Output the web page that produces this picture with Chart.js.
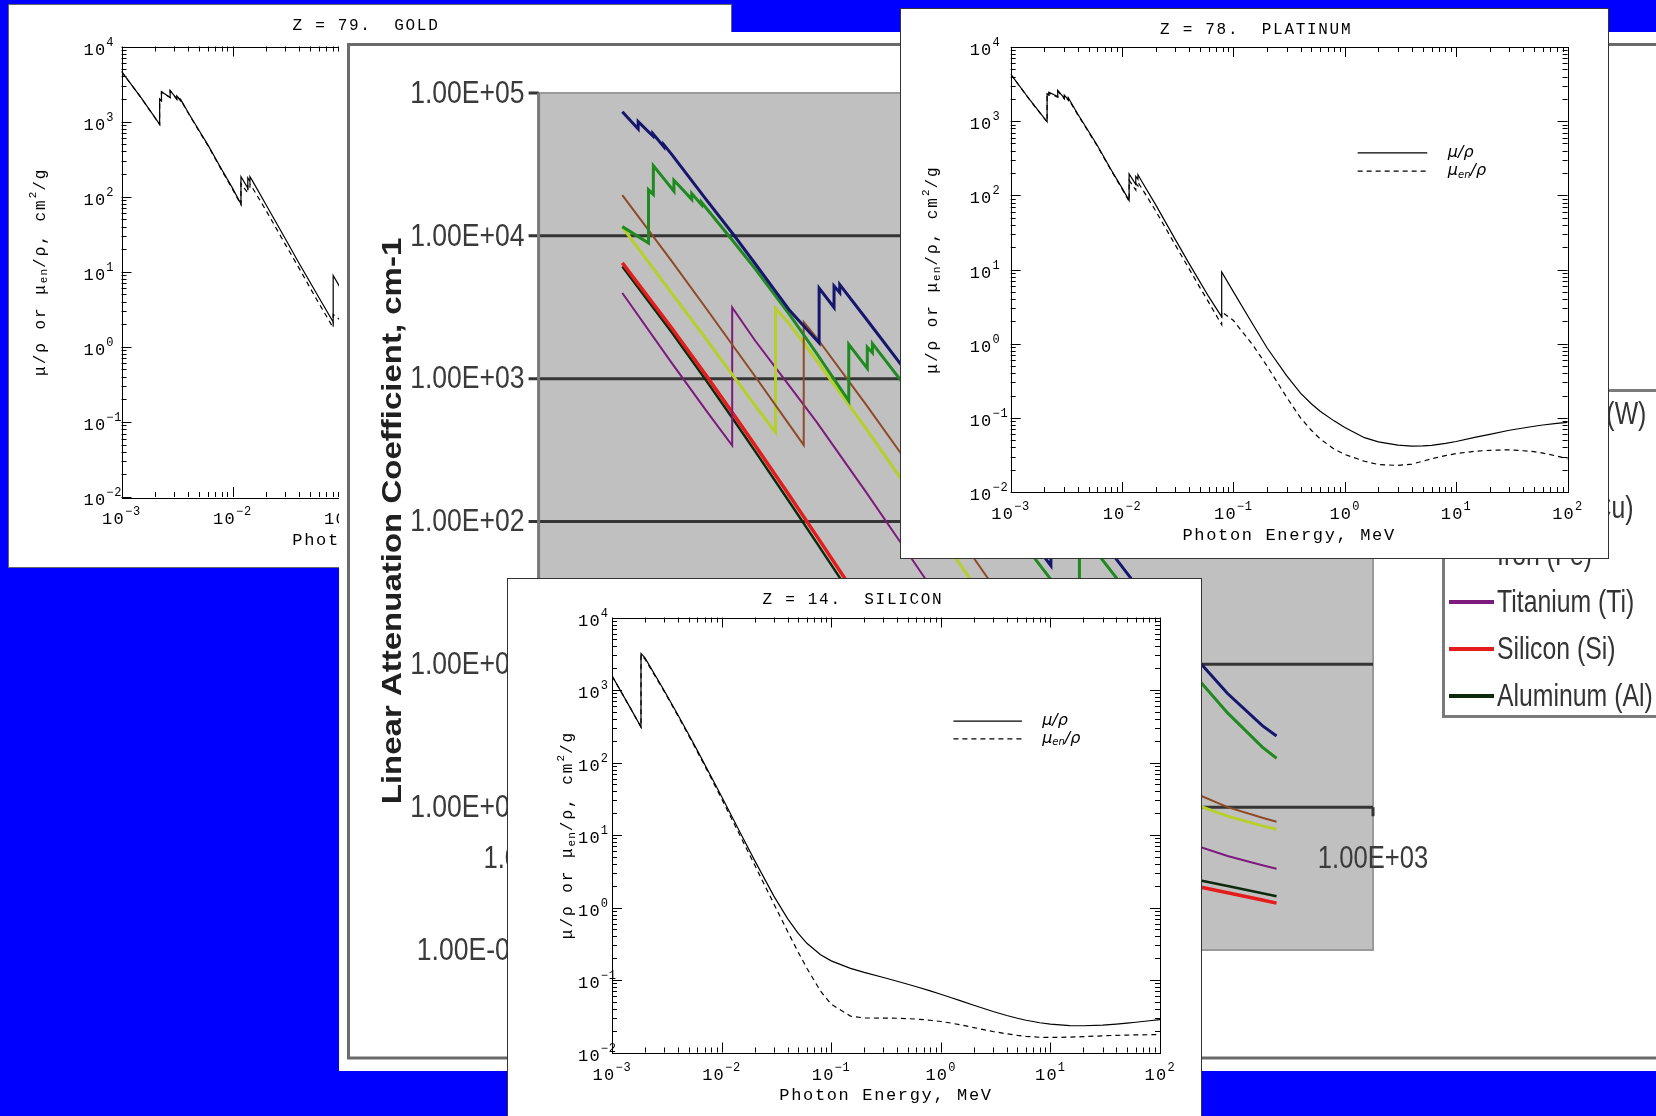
<!DOCTYPE html>
<html>
<head>
<meta charset="utf-8">
<script src="https://cdn.jsdelivr.net/npm/chart.js@4.4.1/dist/chart.umd.min.js"></script>
<style>
html, body { margin: 0; padding: 0; }
body { width: 1656px; height: 1116px; background: #0000ff; position: relative; overflow: hidden; }
.panel { position: absolute; background: #fff; box-sizing: border-box; }
.panel canvas { position: absolute; left: 0; top: 0; }
#bigChart { filter: blur(0.5px); }
</style>
</head>
<body>
<div class="panel" style="left:8px;top:4px;width:724px;height:564px;border:1px solid #666"><canvas id="goldChart" width="722" height="562"></canvas></div>
<div class="panel" style="left:339px;top:32px;width:1317px;height:1039px"><canvas id="bigChart" width="1317" height="1039"></canvas></div>
<div class="panel" style="left:900px;top:8px;width:709px;height:551px;border:1px solid #333"><canvas id="platChart" width="707" height="549"></canvas></div>
<div class="panel" style="left:507px;top:578px;width:695px;height:560px;border:1px solid #333"><canvas id="siChart" width="693" height="558"></canvas></div>
<script>
// ---- big chart: photon energy (keV) vs linear attenuation coefficient (cm-1)
const wKeV  = [2, 2.28, 2.28, 2.575, 2.575, 2.82, 2.82, 3, 4, 5, 6, 8, 10.2, 10.2, 11.54, 11.54, 12.1, 12.1, 15, 20, 30, 40, 50, 60, 69.5, 69.5, 80, 100, 150, 200, 300, 400, 450];
const wMu   = [74000, 56000, 63000, 50000, 52000, 42000, 43500, 37500, 18000, 10300, 6400, 3000, 1780, 4300, 3150, 4450, 4000, 4550, 2650, 1270, 438, 206, 115, 71.6, 49, 217, 150.7, 85.7, 30.5, 15.1, 6.25, 3.72, 3.15];
const pbKeV = [2, 2.484, 2.484, 2.586, 2.586, 3.066, 3.066, 3.554, 3.554, 3.851, 3.851, 5, 6, 8, 10, 13.035, 13.035, 15.2, 15.2, 15.86, 15.86, 20, 30, 40, 50, 60, 80, 88, 88, 100, 150, 200, 300, 400, 450];
const pbMu  = [11600, 8900, 21000, 19500, 31000, 20500, 24500, 18000, 19800, 16500, 17200, 9200, 5900, 2800, 1500, 700, 1740, 1180, 1660, 1520, 1760, 980, 344, 163, 91, 57, 27.5, 21.7, 87.2, 63, 22.8, 11.3, 4.57, 2.63, 2.2];
const cuKeV = [2, 3, 4, 5, 6, 8, 8.979, 8.979, 10, 15, 20, 30, 40, 50, 60, 80, 100, 150, 200, 300, 400, 450];
const cuMu  = [19300, 6710, 3110, 1700, 1040, 471, 343, 2490, 1934, 663, 303, 97.8, 43.6, 23.4, 14.3, 6.84, 4.11, 1.99, 1.40, 1.00, 0.843, 0.79];
const feKeV = [2, 3, 4, 5, 6, 7.112, 7.112, 8, 10, 15, 20, 30, 40, 50, 60, 80, 100, 150, 200, 300, 400, 450];
const feMu  = [11500, 4000, 1900, 1050, 650, 420, 3100, 2400, 1340, 450, 202, 64.4, 28.6, 15.4, 9.5, 4.68, 2.93, 1.55, 1.15, 0.865, 0.74, 0.70];
const tiKeV = [2, 3, 4, 4.966, 4.966, 6, 8, 10, 15, 20, 30, 40, 50, 60, 80, 100, 150, 200, 300, 400, 450];
const tiMu  = [3980, 1300, 600, 340, 3150, 1850, 883, 496, 162, 71.6, 22.4, 9.96, 5.45, 3.42, 1.82, 1.23, 0.743, 0.59, 0.455, 0.392, 0.37];
const siKeV = [2, 3, 4, 5, 6, 8, 10, 15, 20, 30, 40, 50, 60, 80, 100, 150, 200, 300, 400, 450];
const siMu  = [6470, 2280, 1055, 571, 342, 151, 79, 24.1, 10.4, 3.35, 1.63, 1.02, 0.747, 0.519, 0.428, 0.337, 0.297, 0.252, 0.224, 0.213];
const alKeV = [2, 3, 4, 5, 6, 8, 10, 15, 20, 30, 40, 50, 60, 80, 100, 150, 200, 300, 400, 450];
const alMu  = [6108, 2127, 973, 522, 311, 136, 70.8, 21.5, 9.29, 3.04, 1.53, 0.994, 0.750, 0.545, 0.460, 0.372, 0.330, 0.281, 0.250, 0.238];

const bigNames  = ['Tungsten (W)', 'Lead (Pb)', 'Copper (Cu)', 'Iron (Fe)', 'Titanium (Ti)', 'Silicon (Si)', 'Aluminum (Al)'];
const bigColors = ['#16166e', '#1f8a1f', '#8e4a26', '#b6cf2a', '#7d1a7d', '#e41c1c', '#0e2a0e'];
const yTickValues = [1e5, 1e4, 1e3, 1e2, 1e1, 1, 0.1];
const yTickLabels = ['1.00E+05', '1.00E+04', '1.00E+03', '1.00E+02', '1.00E+01', '1.00E+00', '1.00E-01'];
const xTickValues = [1, 10, 100, 1000];
const xTickLabels = ['1.00E+00', '1.00E+01', '1.00E+02', '1.00E+03'];

// ---- NIST style panels: photon energy (MeV) vs mu/rho and mu_en/rho (cm2/g)
const auMeV = [1e-3, 1.5e-3, 2.206e-3, 2.206e-3, 2.291e-3, 2.291e-3, 2.743e-3, 2.743e-3, 3.148e-3, 3.148e-3, 3.425e-3, 3.425e-3, 4e-3, 5e-3, 6e-3, 8e-3, 1e-2, 1.1919e-2, 1.1919e-2, 1.3734e-2, 1.3734e-2, 1.4353e-2, 1.4353e-2, 1.5e-2, 2e-2, 3e-2, 4e-2, 5e-2, 6e-2, 8.0725e-2, 8.0725e-2, 0.1, 0.15, 0.2, 0.3, 0.4, 0.5, 0.6, 0.8, 1, 1.5, 2, 3, 4, 5, 6, 8, 10, 15, 20, 30, 40, 50, 60, 80, 100];
const auMu  = [4652, 2089, 918.7, 2000, 1900, 2500, 2100, 2600, 2000, 2200, 1900, 1950, 1310, 760, 490, 230, 130, 80, 185, 130, 178, 160, 185, 166, 78.8, 27.3, 12.8, 7.26, 4.53, 2.14, 8.90, 5.16, 1.86, 0.928, 0.386, 0.223, 0.159, 0.126, 0.0935, 0.0755, 0.0549, 0.0484, 0.0432, 0.0418, 0.042, 0.0427, 0.0453, 0.0482, 0.0552, 0.0606, 0.0688, 0.0737, 0.0775, 0.0803, 0.0844, 0.0874];
const auMuEn = [4639, 2081, 915, 1980, 1880, 2480, 2080, 2580, 1980, 2180, 1880, 1930, 1290, 745, 480, 224, 126, 78, 150, 112, 142, 130, 148, 134, 66, 23, 11, 6.1, 3.8, 1.8, 2.7, 2.1, 0.98, 0.52, 0.2, 0.105, 0.07, 0.054, 0.039, 0.033, 0.0265, 0.024, 0.0231, 0.024, 0.0262, 0.028, 0.031, 0.033, 0.0355, 0.0365, 0.037, 0.036, 0.035, 0.0335, 0.0305, 0.028];

const ptMeV = [1e-3, 1.5e-3, 2.122e-3, 2.122e-3, 2.202e-3, 2.202e-3, 2.645e-3, 2.645e-3, 3.027e-3, 3.027e-3, 3.296e-3, 3.296e-3, 4e-3, 5e-3, 6e-3, 8e-3, 1e-2, 1.1564e-2, 1.1564e-2, 1.3273e-2, 1.3273e-2, 1.388e-2, 1.388e-2, 1.5e-2, 2e-2, 3e-2, 4e-2, 5e-2, 6e-2, 7.8395e-2, 7.8395e-2, 0.1, 0.15, 0.2, 0.3, 0.4, 0.5, 0.6, 0.8, 1, 1.5, 2, 3, 4, 5, 6, 8, 10, 15, 20, 30, 40, 50, 60, 80, 100];
const ptMu  = [4300, 1900, 980, 2350, 2250, 2450, 2150, 2600, 2050, 2250, 1950, 2050, 1250, 730, 470, 220, 125, 85, 195, 140, 180, 165, 190, 155, 75, 25.5, 12, 6.8, 4.3, 2.3, 9.3, 5.0, 1.8, 0.88, 0.37, 0.215, 0.155, 0.123, 0.091, 0.074, 0.054, 0.0475, 0.0428, 0.0415, 0.0418, 0.0426, 0.0452, 0.048, 0.055, 0.060, 0.068, 0.073, 0.077, 0.080, 0.084, 0.087];
const ptMuEn = [4290, 1890, 975, 2300, 2200, 2400, 2100, 2550, 2000, 2200, 1900, 2000, 1220, 715, 460, 215, 122, 83, 160, 118, 145, 134, 150, 125, 62, 21.5, 10.2, 5.7, 3.6, 1.8, 2.7, 2.05, 0.95, 0.50, 0.19, 0.10, 0.068, 0.052, 0.038, 0.032, 0.026, 0.0235, 0.0228, 0.0238, 0.026, 0.028, 0.031, 0.033, 0.0355, 0.0365, 0.037, 0.036, 0.035, 0.0335, 0.0305, 0.028];

const siMeV = [1e-3, 1.5e-3, 1.839e-3, 1.839e-3, 2e-3, 3e-3, 4e-3, 5e-3, 6e-3, 8e-3, 1e-2, 1.5e-2, 2e-2, 3e-2, 4e-2, 5e-2, 6e-2, 8e-2, 0.1, 0.15, 0.2, 0.3, 0.4, 0.5, 0.6, 0.8, 1, 1.25, 1.5, 2, 3, 4, 5, 6, 8, 10, 15, 20, 30, 40, 50, 60, 80, 100];
const siMuRho = [1570, 535.5, 309.2, 3192, 2777, 978.4, 452.9, 245.0, 147.0, 64.68, 33.89, 10.34, 4.464, 1.436, 0.7012, 0.4385, 0.3207, 0.2228, 0.1835, 0.1448, 0.1275, 0.1082, 0.09614, 0.08748, 0.08077, 0.07082, 0.06361, 0.05688, 0.05183, 0.04480, 0.03678, 0.03240, 0.02967, 0.02788, 0.02574, 0.02462, 0.02352, 0.02337, 0.02385, 0.02461, 0.02539, 0.02614, 0.02743, 0.02847];
const siMuEnRho = [1567, 533.1, 307.0, 3059, 2669, 951.1, 438.2, 236.5, 141.3, 61.54, 31.67, 9.307, 3.875, 1.121, 0.4681, 0.2421, 0.1453, 0.0701, 0.04632, 0.03175, 0.02994, 0.02984, 0.02965, 0.02932, 0.02888, 0.02787, 0.02677, 0.02540, 0.02414, 0.02206, 0.01948, 0.01808, 0.01723, 0.01673, 0.01622, 0.01611, 0.01628, 0.01655, 0.01699, 0.01724, 0.01740, 0.01750, 0.01760, 0.01763];

const MONO = "'Liberation Mono', 'DejaVu Sans Mono', monospace";
const SANS = "'Liberation Sans', Arial, sans-serif";

function pts(xs, ys) {
    return xs.map((v, i) => ({ x: v, y: ys[i] }));
}

function partsWidth(ctx, parts) {
    let w = 0;
    parts.forEach(p => {
        ctx.font = p.font;
        ctx.letterSpacing = p.ls || '0px';
        w += ctx.measureText(p.t).width;
    });
    return w;
}

function drawParts(ctx, parts, x, y) {
    parts.forEach(p => {
        ctx.font = p.font;
        ctx.letterSpacing = p.ls || '0px';
        ctx.fillText(p.t, x, y + (p.dy || 0));
        x += ctx.measureText(p.t).width;
    });
}

function powLabel(e) {
    const sup = e < 0 ? '\u2212' + (-e) : String(e);
    return [
        { t: '10', font: '17px ' + MONO, ls: '1.2px' },
        { t: sup, font: '12px ' + MONO, ls: '0.8px', dy: -9 }
    ];
}

function logTicks(lo, hi) {
    const out = [];
    for (let d = lo; d <= hi; d++) {
        for (let m = 1; m <= 9; m++) {
            if (d === hi && m > 1) break;
            out.push([m * Math.pow(10, d), m === 1]);
        }
    }
    return out;
}

// frame, ticks and texts of the NIST style plots
const nistFrame = {
    id: 'nistFrame',
    afterDatasetsDraw(chart, args, opts) {
        const { ctx, chartArea: a, scales: { x, y } } = chart;
        ctx.save();
        ctx.strokeStyle = '#000';
        ctx.fillStyle = '#000';
        ctx.lineWidth = 1;
        ctx.setLineDash([]);
        ctx.strokeRect(Math.round(a.left) + 0.5, Math.round(a.top) + 0.5, Math.round(a.right - a.left), Math.round(a.bottom - a.top));

        ctx.beginPath();
        logTicks(-3, 2).forEach(([v, major]) => {
            const px = Math.round(x.getPixelForValue(v)) + 0.5;
            const len = major ? 10 : 5;
            ctx.moveTo(px, a.bottom); ctx.lineTo(px, a.bottom - len);
            ctx.moveTo(px, a.top); ctx.lineTo(px, a.top + len);
        });
        logTicks(-2, 4).forEach(([v, major]) => {
            const py = Math.round(y.getPixelForValue(v)) + 0.5;
            const len = major ? 10 : 5;
            ctx.moveTo(a.left, py); ctx.lineTo(a.left + len, py);
            ctx.moveTo(a.right, py); ctx.lineTo(a.right - len, py);
        });
        ctx.stroke();

        ctx.textAlign = 'left';
        ctx.textBaseline = 'alphabetic';
        for (let e = -3; e <= 2; e++) {
            const parts = powLabel(e);
            const px = x.getPixelForValue(Math.pow(10, e));
            drawParts(ctx, parts, px - partsWidth(ctx, parts) / 2, a.bottom + 27);
        }
        for (let e = -2; e <= 4; e++) {
            const py = y.getPixelForValue(Math.pow(10, e));
            drawParts(ctx, powLabel(e), a.left - opts.tickGap, py + 8);
        }

        // title
        ctx.textAlign = 'center';
        ctx.textBaseline = 'middle';
        ctx.font = '16px ' + MONO;
        ctx.letterSpacing = '1.7px';
        ctx.fillText(opts.title, (a.left + a.right) / 2 - 33, 21);

        // x axis title
        ctx.font = '17px ' + MONO;
        ctx.letterSpacing = '1.65px';
        ctx.fillText('Photon Energy, MeV', (a.left + a.right) / 2, a.bottom + 43);

        // y axis title
        ctx.textAlign = 'left';
        const f = '16px ' + MONO, fs = '11px ' + MONO;
        const ylab = [
            { t: '\u03bc/\u03c1 or \u03bc', font: f, ls: '2px' },
            { t: 'en', font: fs, ls: '1px', dy: 4 },
            { t: '/\u03c1, cm', font: f, ls: '2px' },
            { t: '2', font: fs, ls: '1px', dy: -7 },
            { t: '/g', font: f, ls: '2px' }
        ];
        ctx.save();
        ctx.translate(a.left - opts.labelGap, (a.top + a.bottom) / 2);
        ctx.rotate(-Math.PI / 2);
        drawParts(ctx, ylab, -partsWidth(ctx, ylab) / 2, 0);
        ctx.restore();

        // legend
        const w = a.right - a.left, h = a.bottom - a.top;
        const lx0 = a.left + 0.623 * w, lx1 = a.left + 0.748 * w, tx = a.left + 0.785 * w;
        const ly0 = a.top + 0.238 * h, ly1 = a.top + 0.279 * h;
        ctx.lineWidth = 1.2;
        ctx.beginPath(); ctx.moveTo(lx0, ly0); ctx.lineTo(lx1, ly0); ctx.stroke();
        ctx.setLineDash([5, 4]);
        ctx.beginPath(); ctx.moveTo(lx0, ly1); ctx.lineTo(lx1, ly1); ctx.stroke();
        ctx.setLineDash([]);
        const fi = "italic 16px 'DejaVu Sans', sans-serif", fis = "italic 10px 'DejaVu Sans', sans-serif";
        drawParts(ctx, [{ t: '\u03bc/\u03c1', font: fi }], tx, ly0);
        drawParts(ctx, [{ t: '\u03bc', font: fi }, { t: 'en', font: fis, dy: 4 }, { t: '/\u03c1', font: fi }], tx, ly1);
        ctx.restore();
    }
};

function nistChart(id, title, energy, mu, muEn, pad, tickGap, labelGap) {
    return new Chart(document.getElementById(id), {
        type: 'line',
        data: {
            datasets: [
                { label: '\u03bc/\u03c1', data: pts(energy, mu), borderColor: '#000', borderWidth: 1.2, pointRadius: 0 },
                { label: '\u03bcen/\u03c1', data: pts(energy, muEn), borderColor: '#000', borderWidth: 1.2, borderDash: [5, 4], pointRadius: 0 }
            ]
        },
        options: {
            responsive: false,
            animation: false,
            devicePixelRatio: 1,
            layout: { padding: pad },
            scales: {
                x: { type: 'logarithmic', min: 1e-3, max: 100, display: false },
                y: { type: 'logarithmic', min: 1e-2, max: 1e4, display: false }
            },
            plugins: {
                legend: { display: false },
                tooltip: { enabled: false },
                nistFrame: { title: title, tickGap: tickGap, labelGap: labelGap }
            }
        },
        plugins: [nistFrame]
    });
}

// gray plot, grid, labels and legend of the big chart
const bigDecor = {
    id: 'bigDecor',
    beforeDatasetsDraw(chart) {
        const { ctx, chartArea: a, scales: { x, y } } = chart;
        ctx.save();
        ctx.fillStyle = '#c0c0c0';
        ctx.fillRect(a.left, a.top, a.right - a.left, a.bottom - a.top);
        ctx.strokeStyle = '#9a9a9a';
        ctx.lineWidth = 2;
        ctx.strokeRect(a.left, a.top, a.right - a.left, a.bottom - a.top);

        ctx.strokeStyle = '#353535';
        ctx.lineWidth = 3;
        ctx.beginPath();
        yTickValues.forEach(v => {
            const py = y.getPixelForValue(v);
            const inner = v < 1e5 && v > 0.1;
            ctx.moveTo(a.left - 10, py);
            ctx.lineTo(inner ? a.right : a.left, py);
        });
        const py1 = y.getPixelForValue(1);
        xTickValues.forEach(v => {
            const px = x.getPixelForValue(v);
            ctx.moveTo(px, py1);
            ctx.lineTo(px, py1 + 9);
        });
        ctx.stroke();

        ctx.strokeStyle = '#7a7a7a';
        ctx.beginPath();
        ctx.moveTo(a.left, a.top);
        ctx.lineTo(a.left, a.bottom);
        ctx.stroke();
        ctx.restore();
    },
    afterDraw(chart) {
        const { ctx, chartArea: a, scales: { x, y } } = chart;
        ctx.save();
        ctx.letterSpacing = '0px';

        // outer chart border
        ctx.strokeStyle = '#6a6a6a';
        ctx.lineWidth = 3;
        ctx.strokeRect(9.5, 12.5, 1400, 1013.5);

        // tick labels
        ctx.fillStyle = '#3a3a3a';
        ctx.font = '32px ' + SANS;
        ctx.textBaseline = 'middle';
        yTickValues.forEach((v, i) => {
            ctx.save();
            ctx.translate(a.left - 14, y.getPixelForValue(v) + 1);
            ctx.scale(0.83, 1);
            ctx.textAlign = 'right';
            ctx.fillText(yTickLabels[i], 0, 0);
            ctx.restore();
        });
        const py1 = y.getPixelForValue(1);
        xTickValues.forEach((v, i) => {
            ctx.save();
            ctx.translate(x.getPixelForValue(v), py1 + 52);
            ctx.scale(0.8, 1);
            ctx.textAlign = 'center';
            ctx.fillText(xTickLabels[i], 0, 0);
            ctx.restore();
        });

        // axis title
        ctx.save();
        ctx.fillStyle = '#202020';
        ctx.translate(62, 489);
        ctx.rotate(-Math.PI / 2);
        ctx.scale(1, 0.86);
        ctx.font = 'bold 33px ' + SANS;
        ctx.textAlign = 'center';
        ctx.textBaseline = 'alphabetic';
        ctx.fillText('Linear Attenuation Coefficient, cm-1', 0, 0);
        ctx.restore();

        // legend
        ctx.fillStyle = '#fff';
        ctx.fillRect(1104, 358, 400, 326);
        ctx.strokeStyle = '#7a7a7a';
        ctx.lineWidth = 3;
        ctx.strokeRect(1104.5, 358.5, 400, 326);
        chart.data.datasets.forEach((ds, i) => {
            const ly = 382 + 47 * i;
            ctx.strokeStyle = ds.borderColor;
            ctx.lineWidth = 4;
            ctx.beginPath();
            ctx.moveTo(1110, ly);
            ctx.lineTo(1155, ly);
            ctx.stroke();
            ctx.save();
            ctx.fillStyle = '#333';
            ctx.translate(1158, ly + 1);
            ctx.scale(0.8, 1);
            ctx.font = '31px ' + SANS;
            ctx.textAlign = 'left';
            ctx.textBaseline = 'middle';
            ctx.fillText(ds.label, 0, 0);
            ctx.restore();
        });
        ctx.restore();
    }
};

const bigSeries = [[wKeV, wMu, 3], [pbKeV, pbMu, 3], [cuKeV, cuMu, 2], [feKeV, feMu, 3], [tiKeV, tiMu, 2], [siKeV, siMu, 3.5], [alKeV, alMu, 2.5]];

new Chart(document.getElementById('bigChart'), {
    type: 'line',
    data: {
        datasets: bigSeries.map((s, i) => ({
            label: bigNames[i],
            data: pts(s[0], s[1]),
            borderColor: bigColors[i],
            borderWidth: s[2],
            pointRadius: 0
        }))
    },
    options: {
        responsive: false,
        animation: false,
        devicePixelRatio: 1,
        layout: { padding: { left: 199.6, top: 61, right: 283, bottom: 121 } },
        scales: {
            x: { type: 'logarithmic', min: 1, max: 1000, display: false },
            y: { type: 'logarithmic', min: 0.1, max: 1e5, display: false }
        },
        plugins: { legend: { display: false }, tooltip: { enabled: false } }
    },
    plugins: [bigDecor]
});

nistChart('goldChart', 'Z = 79.  GOLD', auMeV, auMu, auMuEn, { left: 112.5, top: 41.5, right: 54.5, bottom: 70 }, 38, 81);
nistChart('platChart', 'Z = 78.  PLATINUM', ptMeV, ptMu, ptMuEn, { left: 109.7, top: 38, right: 40.4, bottom: 66 }, 41, 78);
nistChart('siChart', 'Z = 14.  SILICON', siMeV, siMuRho, siMuEnRho, { left: 104, top: 38.5, right: 41, bottom: 84.5 }, 34, 44);
</script>
</body>
</html>
